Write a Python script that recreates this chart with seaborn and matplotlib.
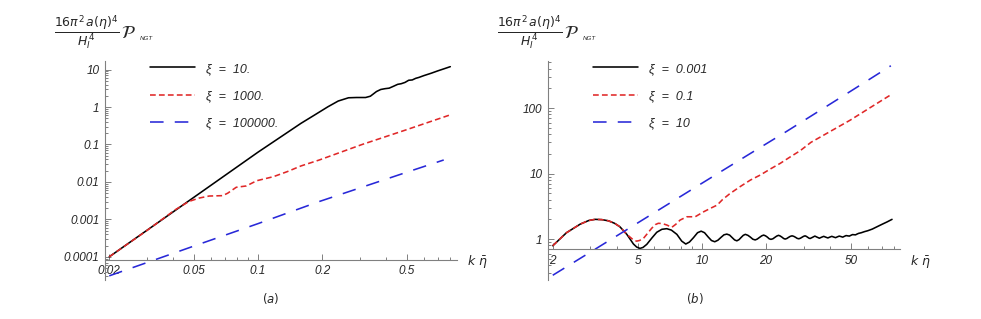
import numpy as np
import pandas as pd
import matplotlib
matplotlib.use('Agg')
import matplotlib.pyplot as plt
from matplotlib.ticker import FixedLocator, FixedFormatter, NullFormatter
import seaborn as sns

# ---------- panel (a) ----------
k_a_xi10 = [0.02, 0.05, 0.1, 0.13, 0.159, 0.184, 0.213, 0.238, 0.266, 0.29, 0.32, 0.337,
            0.36, 0.377, 0.395, 0.413, 0.433, 0.453, 0.47, 0.49, 0.51, 0.53, 0.55, 0.57,
            0.6, 0.65, 0.7, 0.75, 0.8]
P_a_xi10 = [1e-4, 0.0039, 0.0625, 0.17, 0.367, 0.61, 1.02, 1.45, 1.77, 1.80, 1.80, 1.95,
            2.6, 2.95, 3.1, 3.2, 3.6, 4.05, 4.2, 4.55, 5.2, 5.3, 5.85, 6.2,
            6.9, 8.0, 9.3, 10.6, 12.0]

k_a_xi1000 = [0.02, 0.03, 0.0408, 0.0473, 0.0528, 0.0589, 0.0682, 0.072, 0.079, 0.088,
              0.0987, 0.118, 0.137, 0.159, 0.194, 0.308, 0.5, 0.8]
P_a_xi1000 = [1e-4, 5.0e-4, 0.0018, 0.003, 0.0037, 0.0042, 0.0043, 0.005, 0.0072, 0.0078,
              0.0108, 0.0138, 0.0188, 0.0267, 0.0386, 0.10, 0.25, 0.62]

k_a_xi1e5 = [0.02, 0.05, 0.1, 0.194, 0.5, 0.745]
P_a_xi1e5 = [3.1e-5, 1.94e-4, 7.7e-4, 0.003, 0.0182, 0.0386]

labels_a = ['ξ  =  10.', 'ξ  =  1000.', 'ξ  =  100000.']

# ---------- panel (b) ----------
k_b_xi0001 = [2.0, 2.32, 2.69, 2.95, 3.16, 3.4, 3.65, 3.9, 4.13, 4.45, 4.78, 4.95, 5.13,
              5.3, 5.52, 5.85, 6.15, 6.5, 6.85, 7.2, 7.64, 8.05, 8.41, 8.75, 9.14, 9.55,
              9.93, 10.3, 10.7, 11.1, 11.5, 11.9, 12.3, 12.7, 13.1, 13.5, 13.85, 14.25,
              14.6, 14.95, 15.3, 15.65, 16.0, 16.45, 16.9, 17.35, 17.8, 18.2, 18.65, 19.1,
              19.5, 19.9, 20.3, 20.7, 21.1, 21.55, 22.0, 22.45, 22.9, 23.3, 23.75, 24.2,
              24.6, 25.05, 25.5, 26.0, 26.5, 27.0, 27.5, 28.0, 28.5, 29.0, 29.5, 30.0,
              30.5, 30.9, 31.3, 31.75, 32.2, 33.0, 33.9, 34.7, 35.6, 36.4, 37.3, 38.1,
              39.0, 39.8, 40.7, 41.5, 42.4, 43.2, 44.1, 45.0, 45.8, 46.6, 47.5, 48.3,
              49.2, 50.0, 50.9, 51.7, 52.6, 53.4, 54.3, 56.0, 58.0, 60.0, 63.0, 66.0,
              70.0, 74.0, 78.0]
P_b_xi0001 = [0.79, 1.25, 1.69, 1.92, 2.0, 1.98, 1.9, 1.74, 1.54, 1.18, 0.84, 0.755, 0.72,
              0.745, 0.83, 1.05, 1.27, 1.41, 1.44, 1.37, 1.18, 0.93, 0.84, 0.90, 1.05, 1.25,
              1.32, 1.25, 1.08, 0.95, 0.91, 0.96, 1.06, 1.16, 1.19, 1.15, 1.06, 0.97,
              0.94, 0.98, 1.06, 1.14, 1.18, 1.14, 1.07, 0.995, 0.97, 1.00, 1.06, 1.12,
              1.15, 1.12, 1.07, 1.01, 0.99, 1.01, 1.06, 1.11, 1.14, 1.115, 1.07, 1.02,
              1.0, 1.02, 1.06, 1.10, 1.12, 1.10, 1.065, 1.025, 1.01, 1.03, 1.065, 1.10,
              1.12, 1.10, 1.07, 1.035, 1.02, 1.06, 1.11, 1.07, 1.03, 1.065, 1.10, 1.07,
              1.04, 1.07, 1.10, 1.075, 1.05, 1.08, 1.11, 1.09, 1.07, 1.10, 1.13, 1.12,
              1.11, 1.14, 1.17, 1.165, 1.16, 1.19, 1.22, 1.25, 1.30, 1.34, 1.42, 1.53,
              1.68, 1.83, 2.0]

k_b_xi01 = [2.0, 2.32, 2.69, 2.95, 3.16, 3.4, 3.65, 3.9, 4.13, 4.45, 4.69, 4.82, 4.95,
            5.1, 5.32, 5.82, 6.05, 6.25, 6.5, 6.85, 7.23, 7.55, 7.91, 8.51, 9.31, 10.2,
            11.1, 11.8, 12.5, 13.5, 15.1, 16.9, 18.8, 21.0, 23.3, 26.0, 28.9, 32.5,
            40.0, 49.7, 62.0, 78.0]
P_b_xi01 = [0.79, 1.25, 1.69, 1.92, 2.0, 1.98, 1.9, 1.74, 1.54, 1.18, 1.02, 0.95, 0.93,
            0.95, 1.02, 1.46, 1.66, 1.74, 1.73, 1.64, 1.51, 1.68, 1.95, 2.19, 2.19, 2.61,
            3.0, 3.3, 4.0, 4.9, 6.3, 7.96, 9.5, 11.8, 14.3, 18.0, 22.3, 30.0,
            44.0, 65.6, 103.0, 164.0]

k_b_xi10 = [2.0, 3.16, 5.0, 10.0, 16.9, 25.1, 50.0, 77.0]
P_b_xi10 = [0.28, 0.70, 1.76, 7.1, 20.3, 44.5, 182.0, 443.0]

labels_b = ['ξ  =  0.001', 'ξ  =  0.1', 'ξ  =  10']

colors = ['black', '#e02828', '#2828d8']
dash_styles = ['', (3.6, 2.0), (8.5, 7.0)]


def make_frame(ks, ps, labels):
    parts = []
    for k, p, lab in zip(ks, ps, labels):
        parts.append(pd.DataFrame({'k': k, 'P': p, 'xi': lab}))
    return pd.concat(parts, ignore_index=True)


df_a = make_frame([k_a_xi10, k_a_xi1000, k_a_xi1e5],
                  [P_a_xi10, P_a_xi1000, P_a_xi1e5], labels_a)
df_b = make_frame([k_b_xi0001, k_b_xi01, k_b_xi10],
                  [P_b_xi0001, P_b_xi01, P_b_xi10], labels_b)

sns.set_style('white')
plt.rcParams['font.family'] = ['Liberation Sans', 'DejaVu Sans']
plt.rcParams['mathtext.fontset'] = 'dejavusans'

fig = plt.figure(figsize=(9.81, 3.19), dpi=100)
ax_a = fig.add_axes([105 / 981, 1 - 280 / 319, 352 / 981, 219 / 319])
ax_b = fig.add_axes([548 / 981, 1 - 280 / 319, 352 / 981, 219 / 319])

axis_col = '#808080'
tick_font = {'family': 'Liberation Sans', 'style': 'italic', 'size': 8.5}


def style_axis(ax, df, labels, xlim, ylim, ycross, xt, xminor, yt, ylabels, yminor):
    ax.set_xscale('log')
    ax.set_yscale('log')
    sns.lineplot(data=df, x='k', y='P', hue='xi', style='xi', ax=ax,
                 hue_order=labels, style_order=labels,
                 palette=dict(zip(labels, colors)),
                 dashes=dict(zip(labels, dash_styles)),
                 linewidth=1.15, estimator=None, sort=True)
    ax.set_xlim(*xlim)
    ax.set_ylim(*ylim)
    ax.set_xlabel('')
    ax.set_ylabel('')
    for s in ['top', 'right']:
        ax.spines[s].set_visible(False)
    ax.spines['bottom'].set_position(('data', ycross))
    for s in ['left', 'bottom']:
        ax.spines[s].set_color(axis_col)
        ax.spines[s].set_linewidth(0.8)
    ax.xaxis.set_major_locator(FixedLocator(xt))
    ax.xaxis.set_major_formatter(FixedFormatter([('%g' % v) for v in xt]))
    ax.xaxis.set_minor_locator(FixedLocator(xminor))
    ax.xaxis.set_minor_formatter(NullFormatter())
    ax.yaxis.set_major_locator(FixedLocator(yt))
    ax.yaxis.set_major_formatter(FixedFormatter(ylabels))
    ax.yaxis.set_minor_locator(FixedLocator(yminor))
    ax.yaxis.set_minor_formatter(NullFormatter())
    ax.tick_params(which='both', direction='in', color=axis_col, width=0.7,
                   bottom=True, left=True, top=False, right=False)
    ax.tick_params(which='major', length=4, pad=4)
    ax.tick_params(which='minor', length=2)
    for lab in ax.get_xticklabels() + ax.get_yticklabels():
        lab.set_fontproperties(tick_font)
    handles, labs = ax.get_legend_handles_labels()
    ax.legend(handles=handles, labels=labs, loc='upper left',
              bbox_to_anchor=(45 / 352, 0.992), frameon=False, borderpad=0,
              borderaxespad=0, handlelength=3.6, handletextpad=0.85,
              labelspacing=1.22, prop={'family': 'Liberation Sans',
                                       'style': 'italic', 'size': 9})


dec_a = [10.0 ** e for e in range(-5, 2)]
yminor_a = [m * d for d in dec_a for m in range(2, 10)]
style_axis(ax_a, df_a, labels_a, (0.0191, 0.86), (2.4e-5, 17.0), 8.3e-5,
           [0.02, 0.05, 0.1, 0.2, 0.5],
           [0.03, 0.04, 0.06, 0.07, 0.08, 0.09, 0.3, 0.4, 0.6, 0.7, 0.8],
           [1e-4, 1e-3, 1e-2, 0.1, 1, 10],
           ['0.0001', '0.001', '0.01', '0.1', '1', '10'], yminor_a)

dec_b = [0.1, 1, 10, 100]
yminor_b = [m * d for d in dec_b for m in range(2, 10)]
style_axis(ax_b, df_b, labels_b, (1.9, 85.0), (0.237, 524.0), 0.696,
           [2, 5, 10, 20, 50],
           [3, 4, 6, 7, 8, 9, 30, 40, 60, 70, 80],
           [1, 10, 100], ['1', '10', '100'], yminor_b)

frac = r'$\dfrac{\mathit{16}\pi^2\, a(\eta)^4}{H_I^{\,4}}$'
for x0 in (54, 497):
    fig.text(x0 / 981, 1 - 33 / 319, frac, ha='left', va='center', fontsize=9)
    fig.text((x0 + 67) / 981, 1 - 34 / 319, r'$\mathcal{P}$', ha='left',
             va='center', fontsize=13)
    fig.text((x0 + 86) / 981, 1 - 39 / 319, 'NGT', ha='left', va='center',
             fontsize=4.5, style='italic')

xlab = r'$k\ \bar{\eta}$'
fig.text(467 / 981, 1 - 262 / 319, xlab, ha='left', va='center', fontsize=9)
fig.text(910 / 981, 1 - 262 / 319, xlab, ha='left', va='center', fontsize=9)

fig.text(271 / 981, 1 - 298 / 319, r'$(a)$', ha='center', va='center', fontsize=8.5)
fig.text(695 / 981, 1 - 298 / 319, r'$(b)$', ha='center', va='center', fontsize=8.5)

fig.savefig('out.png', dpi=100)
